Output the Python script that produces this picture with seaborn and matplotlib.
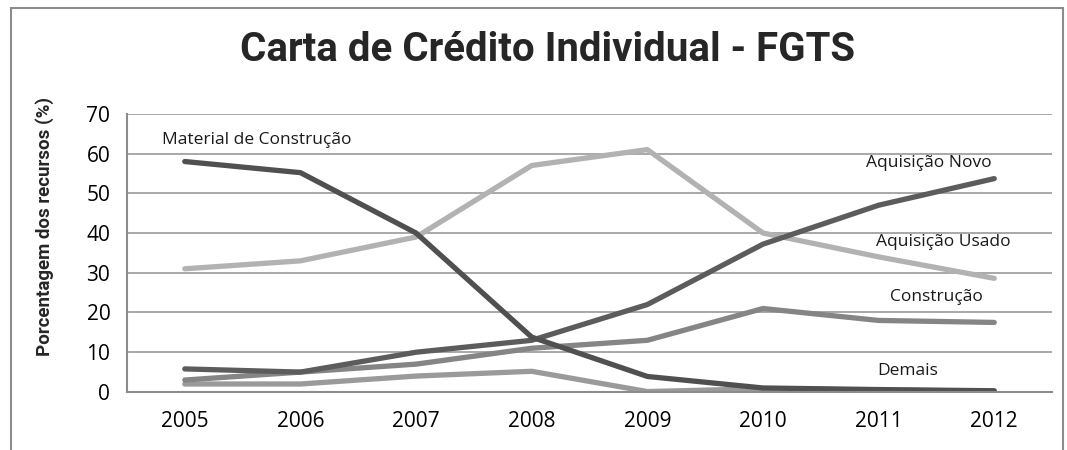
import pandas as pd
import matplotlib.pyplot as plt
import matplotlib.patches as patches
import seaborn as sns

# Dados do gráfico
anos = ['2005', '2006', '2007', '2008', '2009', '2010', '2011', '2012']
material = [58, 55.2, 40, 13.8, 3.9, 1, 0.6, 0.3]
aquisicao_usado = [31, 33, 39, 57, 61, 40, 34, 28.6]
aquisicao_novo = [5.8, 5, 10, 13, 22, 37.2, 47, 53.7]
construcao = [3, 5, 7, 11, 13, 21, 18, 17.5]
demais = [2, 2, 4, 5.2, 0.1, 0.8, 0.5, 0.2]

series = {
    'Material de Construção': material,
    'Aquisição Usado': aquisicao_usado,
    'Aquisição Novo': aquisicao_novo,
    'Construção': construcao,
    'Demais': demais,
}
cores = {
    'Material de Construção': '#505050',
    'Aquisição Usado': '#b2b2b2',
    'Aquisição Novo': '#5c5c5c',
    'Construção': '#858585',
    'Demais': '#9a9a9a',
}

# formato longo para o seaborn
df = pd.DataFrame(series, index=anos).reset_index(names='Ano')
df = df.melt(id_vars='Ano', var_name='Serie', value_name='Valor')

sns.set_style('white')
plt.rcParams['font.family'] = ['Open Sans', 'DejaVu Sans']

fig = plt.figure(figsize=(10.67, 4.5), dpi=100)
ax = fig.add_axes([0.119, 0.129, 0.867, 0.618])

# ordem de desenho: Demais por baixo
ordem = ['Demais', 'Construção', 'Aquisição Usado', 'Aquisição Novo', 'Material de Construção']
sns.lineplot(data=df, x='Ano', y='Valor', hue='Serie', hue_order=ordem,
             palette=cores, linewidth=3.8, legend=False, ax=ax,
             solid_capstyle='round')

ax.set_xlim(-0.5, 7.5)
ax.set_ylim(0, 70)
ax.set_yticks(range(0, 80, 10))
ax.grid(axis='y', color='#999999', linewidth=1.2)
ax.set_axisbelow(True)
for s in ['top', 'right']:
    ax.spines[s].set_visible(False)
for s in ['left', 'bottom']:
    ax.spines[s].set_color('#8c8c8c')
    ax.spines[s].set_linewidth(1.5)
ax.tick_params(axis='both', labelsize=15, colors='#000000', length=0, pad=12)
ax.tick_params(axis='x', pad=14)
ax.set_xlabel('')
ax.set_ylabel('')

# rótulos das séries
rot = dict(fontsize=12.5, color='#1a1a1a')
ax.text(-0.2, 63.5, 'Material de Construção', ha='left', va='center', **rot)
ax.text(6.43, 57.7, 'Aquisição Novo', ha='center', va='center', **rot)
ax.text(6.56, 37.8, 'Aquisição Usado', ha='center', va='center', **rot)
ax.text(6.5, 24, 'Construção', ha='center', va='center', **rot)
ax.text(6.25, 5.3, 'Demais', ha='center', va='center', **rot)

fig.text(0.513, 1 - 50 / 450, 'Carta de Crédito Individual - FGTS',
         ha='center', va='center', fontsize=29, fontweight='bold',
         family=['Liberation Sans Narrow', 'Roboto', 'DejaVu Sans'])
fig.text(45 / 1067, 1 - 227 / 450, 'Porcentagem dos recursos (%)',
         rotation=90, ha='center', va='center', fontsize=13.5, fontweight='bold',
         family=['Roboto', 'DejaVu Sans'])

# moldura do gráfico
fig.patches.append(patches.Rectangle((11 / 1067, -0.1), 1052 / 1067, 1 - 8 / 450 + 0.1,
                                     transform=fig.transFigure, fill=False,
                                     edgecolor='#8c8c8c', linewidth=1.5))

fig.savefig('out.png', dpi=100)
